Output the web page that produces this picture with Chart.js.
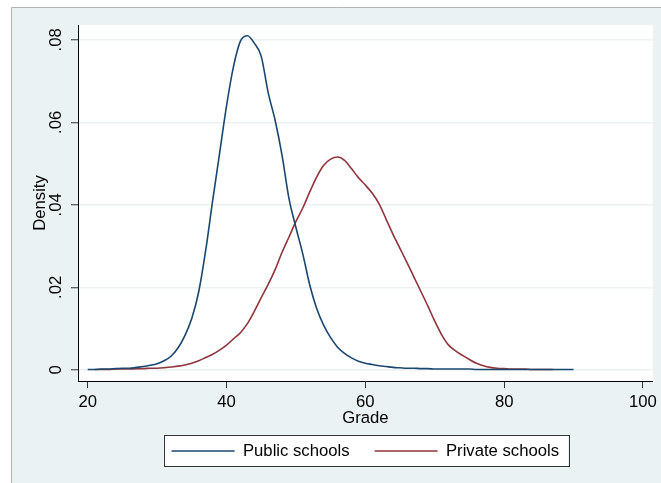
<!DOCTYPE html>
<html>
<head>
<meta charset="utf-8">
<title>Grade density</title>
<script src="https://cdn.jsdelivr.net/npm/chart.js@4.4.1/dist/chart.umd.min.js"></script>
<style>
  html, body { margin: 0; padding: 0; background: #fff; }
  #wrap { width: 661px; height: 483px; }
</style>
</head>
<body>
<div id="wrap"><canvas id="chartDensity" width="661" height="483"></canvas></div>
<script>
// kernel density of grades
const publicGrades = [20, 21, 22, 23, 24, 25, 26, 27, 28, 29, 30, 31, 32, 33, 34, 35, 36, 37, 38, 39,
  40, 41, 42, 43, 44, 45, 46, 47, 48, 49, 50, 51, 52, 53, 54, 55, 56, 57, 58, 59,
  60, 61, 62, 63, 64, 65, 66, 67, 68, 69, 70, 71, 72, 73, 74, 75, 76, 77, 78, 79,
  80, 81, 82, 83, 84, 85, 86, 87, 88, 89, 90];
const publicDensity = [0.0001, 0.0001, 0.0002, 0.0002, 0.0003, 0.0004, 0.0004, 0.0006, 0.0008, 0.0011,
  0.0015, 0.0022, 0.0033, 0.0053, 0.0083, 0.0125, 0.019, 0.029, 0.041, 0.0525,
  0.064, 0.0735, 0.0797, 0.081, 0.0792, 0.076, 0.0672, 0.0605, 0.052, 0.0415,
  0.0345, 0.028, 0.0205, 0.0148, 0.0108, 0.0078, 0.0055, 0.004, 0.0029, 0.0021,
  0.0016, 0.0013, 0.001, 0.0008, 0.0006, 0.0005, 0.0004, 0.0004, 0.0003, 0.0003,
  0.0002, 0.0002, 0.0002, 0.0002, 0.0002, 0.0002, 0.0001, 0.0001, 0.0001, 0.0001,
  0.0001, 0.0001, 0.0001, 0.0001, 0.0001, 0.0001, 0.0001, 0.0001, 0.0001, 0.0001, 0.0001];

const privateGrades = [21, 22, 23, 24, 25, 26, 27, 28, 29, 30, 31, 32, 33, 34, 35, 36, 37, 38, 39,
  40, 41, 42, 43, 44, 45, 46, 47, 48, 49, 50, 51, 52, 53, 54, 55, 56, 57, 58, 59,
  60, 61, 62, 63, 64, 65, 66, 67, 68, 69, 70, 71, 72, 73, 74, 75, 76, 77, 78, 79,
  80, 81, 82, 83, 84, 85, 86, 87];
const privateDensity = [0.0001, 0.0001, 0.0001, 0.0002, 0.0002, 0.0002, 0.0003, 0.0003, 0.0004,
  0.0004, 0.0005, 0.0007, 0.0009, 0.0012, 0.0016, 0.0022, 0.003, 0.0038, 0.0048,
  0.006, 0.0075, 0.009, 0.0112, 0.0142, 0.0175, 0.0207, 0.0243, 0.0285, 0.0322,
  0.036, 0.0393, 0.0432, 0.0468, 0.0496, 0.0511, 0.0516, 0.0508, 0.0488, 0.0466,
  0.0448, 0.0428, 0.0402, 0.0365, 0.0328, 0.0294, 0.026, 0.0225, 0.019, 0.0155,
  0.0118, 0.0085, 0.006, 0.0046, 0.0035, 0.0025, 0.0016, 0.001, 0.0006, 0.0004,
  0.0003, 0.0002, 0.0002, 0.0002, 0.0001, 0.0001, 0.0001, 0.0001];

const seriesNames = ["Public schools", "Private schools"];
const xTickValues = [20, 40, 60, 80, 100];
const xTickLabels = ["20", "40", "60", "80", "100"];
const yTickValues = [0, 0.02, 0.04, 0.06, 0.08];
const yTickLabels = ["0", ".02", ".04", ".06", ".08"];

const BG = "#eaf2f3";
const FONT_SIZE = 16.7;
Chart.defaults.font.family = "'Liberation Sans', Arial, sans-serif";
Chart.defaults.font.size = FONT_SIZE;
Chart.defaults.color = "#000";

// stata-like backgrounds: light frame, white plot region, boxed legend
const stataFrame = {
  id: "stataFrame",
  beforeDraw(chart) {
    const ctx = chart.ctx;
    const a = chart.chartArea;
    ctx.save();
    ctx.fillStyle = "#fff";
    ctx.fillRect(0, 0, chart.width, chart.height);
    ctx.fillStyle = BG;
    ctx.fillRect(11, 7, chart.width - 11, chart.height - 7);
    ctx.strokeStyle = "#b0b4b5";
    ctx.lineWidth = 1;
    ctx.beginPath();
    ctx.moveTo(11.5, chart.height);
    ctx.lineTo(11.5, 7.5);
    ctx.lineTo(chart.width, 7.5);
    ctx.stroke();
    ctx.fillStyle = "#fff";
    ctx.fillRect(a.left, a.top, a.right - a.left, a.bottom - a.top);
    const b = legendBox(chart);
    if (b) ctx.fillRect(b.x, b.y, b.w, b.h);
    ctx.restore();
  },
  afterDraw(chart) {
    const b = legendBox(chart);
    if (!b) return;
    const ctx = chart.ctx;
    ctx.save();
    ctx.strokeStyle = "#333";
    ctx.lineWidth = 1;
    ctx.strokeRect(Math.round(b.x) + 0.5, Math.round(b.y) + 0.5, Math.round(b.w), Math.round(b.h));
    ctx.restore();
  },
};

function legendBox(chart) {
  const hb = chart.legend && chart.legend.legendHitBoxes;
  if (!hb || !hb.length) return null;
  const first = hb[0];
  const last = hb[hb.length - 1];
  const x = first.left - 8;
  const y = first.top - 8;
  return { x: x, y: y, w: last.left + last.width + 9 - x, h: 31 };
}

const ctxDensity = document.getElementById("chartDensity").getContext("2d");
const densityChart = new Chart(ctxDensity, {
  type: "line",
  data: {
    datasets: [
      {
        label: seriesNames[0],
        data: publicGrades.map((g, i) => ({ x: g, y: publicDensity[i] })),
        borderColor: "#1a476f",
        backgroundColor: "#1a476f",
        borderWidth: 1.6,
        pointRadius: 0,
        cubicInterpolationMode: "monotone",
        fill: false,
      },
      {
        label: seriesNames[1],
        data: privateGrades.map((g, i) => ({ x: g, y: privateDensity[i] })),
        borderColor: "#90353b",
        backgroundColor: "#90353b",
        borderWidth: 1.6,
        pointRadius: 0,
        cubicInterpolationMode: "monotone",
        fill: false,
      },
    ],
  },
  options: {
    responsive: false,
    animation: false,
    layout: { padding: { left: 0, top: 25, right: 6, bottom: 13.65 } },
    plugins: {
      tooltip: { enabled: false },
      legend: {
        position: "bottom",
        fullSize: false,
        labels: {
          usePointStyle: true,
          pointStyle: "line",
          pointStyleWidth: 63,
          padding: 25,
          color: "#000",
          font: { size: FONT_SIZE },
        },
      },
    },
    scales: {
      x: {
        type: "linear",
        min: 18.6,
        max: 101.4,
        afterFit: (s) => { s.height = 36.65; },
        afterBuildTicks: (s) => { s.ticks = xTickValues.map((v) => ({ value: v })); },
        ticks: {
          padding: 4,
          maxRotation: 0,
          callback: (v, i) => xTickLabels[i],
        },
        grid: {
          drawOnChartArea: false,
          drawTicks: true,
          tickLength: 7,
          tickColor: "#333",
          tickWidth: 1,
        },
        border: { display: true, color: "#000", width: 1 },
        title: {
          display: true,
          text: "Grade",
          color: "#000",
          font: { size: FONT_SIZE },
          padding: { top: 0, bottom: -10.4 },
        },
      },
      y: {
        type: "linear",
        min: -0.0027,
        max: 0.0836,
        afterFit: (s) => { s.width = 78; },
        afterBuildTicks: (s) => { s.ticks = yTickValues.map((v) => ({ value: v })); },
        ticks: {
          padding: 3,
          minRotation: 90,
          maxRotation: 90,
          crossAlign: "center",
          callback: (v, i) => yTickLabels[i],
        },
        grid: {
          color: BG,
          lineWidth: 1.5,
          drawTicks: true,
          tickLength: 7,
          tickColor: "#333",
          tickWidth: 1,
        },
        border: { display: true, color: "#000", width: 1 },
        title: {
          display: true,
          text: "Density",
          color: "#000",
          font: { size: FONT_SIZE },
          padding: { top: 30, bottom: 0 },
        },
      },
    },
  },
  plugins: [stataFrame],
});
</script>
</body>
</html>
